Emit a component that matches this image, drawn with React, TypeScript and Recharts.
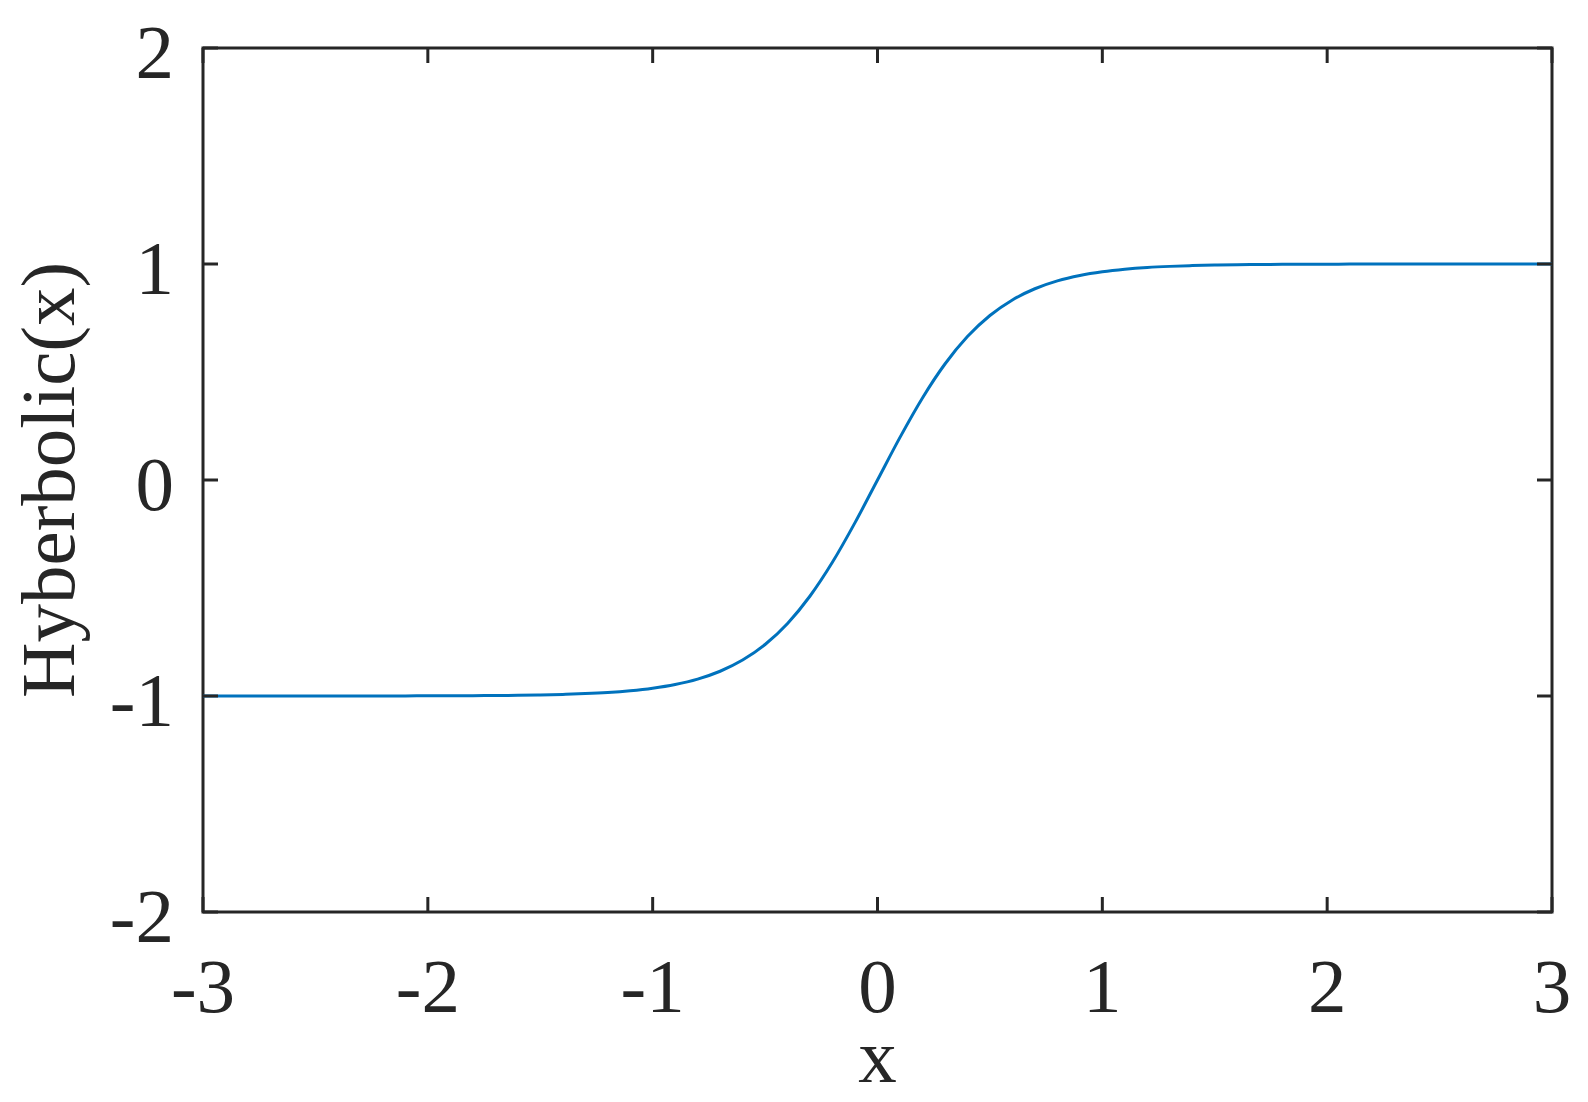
import { LineChart, Line, XAxis, YAxis, ReferenceArea } from "recharts";

// readings taken off the curve, x step 0.1
const xValues = [
  -3.0, -2.9, -2.8, -2.7, -2.6, -2.5, -2.4, -2.3, -2.2, -2.1, -2.0, -1.9, -1.8, -1.7, -1.6, -1.5, -1.4, -1.3, -1.2, -1.1,
  -1.0, -0.9, -0.8, -0.7, -0.6, -0.5, -0.4, -0.3, -0.2, -0.1, 0.0, 0.1, 0.2, 0.3, 0.4, 0.5, 0.6, 0.7, 0.8, 0.9,
  1.0, 1.1, 1.2, 1.3, 1.4, 1.5, 1.6, 1.7, 1.8, 1.9, 2.0, 2.1, 2.2, 2.3, 2.4, 2.5, 2.6, 2.7, 2.8, 2.9, 3.0,
];
const hyperbolic = [
  -1.0, -1.0, -1.0, -1.0, -1.0, -1.0, -1.0, -0.9998, -0.9997, -0.9995, -0.9993, -0.999, -0.9985, -0.9978, -0.9967,
  -0.9951, -0.9926, -0.989, -0.9837, -0.9757, -0.964, -0.9468, -0.9217, -0.8854, -0.8337, -0.7616, -0.664, -0.537,
  -0.3799, -0.1974, 0.0, 0.1974, 0.3799, 0.537, 0.664, 0.7616, 0.8337, 0.8854, 0.9217, 0.9468, 0.964, 0.9757,
  0.9837, 0.989, 0.9926, 0.9951, 0.9967, 0.9978, 0.9985, 0.999, 0.9993, 0.9995, 0.9997, 0.9998, 1.0, 1.0, 1.0, 1.0,
  1.0, 1.0, 1.0,
];
const xTicks = [-3, -2, -1, 0, 1, 2, 3];
const yTicks = [-2, -1, 0, 1, 2];

const data = xValues.map((x, i) => ({ x, y: hyperbolic[i] }));

const W = 1588;
const H = 1102;
const plot = { left: 203, top: 48, right: 1552, bottom: 912 };
const ink = "#262626";
const font = "'Liberation Serif', 'Times New Roman', serif";
const fontSize = 77;
const tickLen = 15;

const XTick = (p: any) => (
  <g>
    <line x1={p.x} x2={p.x} y1={plot.bottom} y2={plot.bottom - tickLen} stroke={ink} strokeWidth={3} />
    <line x1={p.x} x2={p.x} y1={plot.top} y2={plot.top + tickLen} stroke={ink} strokeWidth={3} />
    <text x={p.x} y={plot.bottom + 100} textAnchor="middle" fill={ink} fontFamily={font} fontSize={fontSize}>
      {p.payload.value}
    </text>
  </g>
);

const YTick = (p: any) => (
  <g>
    <line x1={plot.left} x2={plot.left + tickLen} y1={p.y} y2={p.y} stroke={ink} strokeWidth={3} />
    <line x1={plot.right} x2={plot.right - tickLen} y1={p.y} y2={p.y} stroke={ink} strokeWidth={3} />
    <text x={plot.left - 29} y={p.y + 30} textAnchor="end" fill={ink} fontFamily={font} fontSize={fontSize}>
      {p.payload.value}
    </text>
  </g>
);

export default function App() {
  return (
    <div style={{ position: "absolute", left: 0, top: 0, width: W, height: H, background: "#fff" }}>
      <LineChart
        width={W}
        height={H}
        data={data}
        margin={{ top: plot.top, right: W - plot.right, bottom: 0, left: 0 }}
      >
        <XAxis
          dataKey="x"
          type="number"
          domain={[-3, 3]}
          ticks={xTicks}
          height={H - plot.bottom}
          axisLine={false}
          tickLine={false}
          tick={XTick}
          label={{ value: "x", position: "insideBottom", offset: 20, fill: ink, fontFamily: font, fontSize }}
        />
        <YAxis
          type="number"
          domain={[-2, 2]}
          ticks={yTicks}
          width={plot.left}
          axisLine={false}
          tickLine={false}
          tick={YTick}
          label={{
            value: "Hyberbolic(x)",
            angle: -90,
            position: "insideLeft",
            offset: 47,
            style: { textAnchor: "middle" },
            fill: ink,
            fontFamily: font,
            fontSize,
          }}
        />
        <ReferenceArea x1={-3} x2={3} y1={-2} y2={2} fill="none" stroke={ink} strokeWidth={3} />
        <Line
          type="monotone"
          dataKey="y"
          stroke="#0072BD"
          strokeWidth={3}
          dot={false}
          isAnimationActive={false}
        />
      </LineChart>
    </div>
  );
}
